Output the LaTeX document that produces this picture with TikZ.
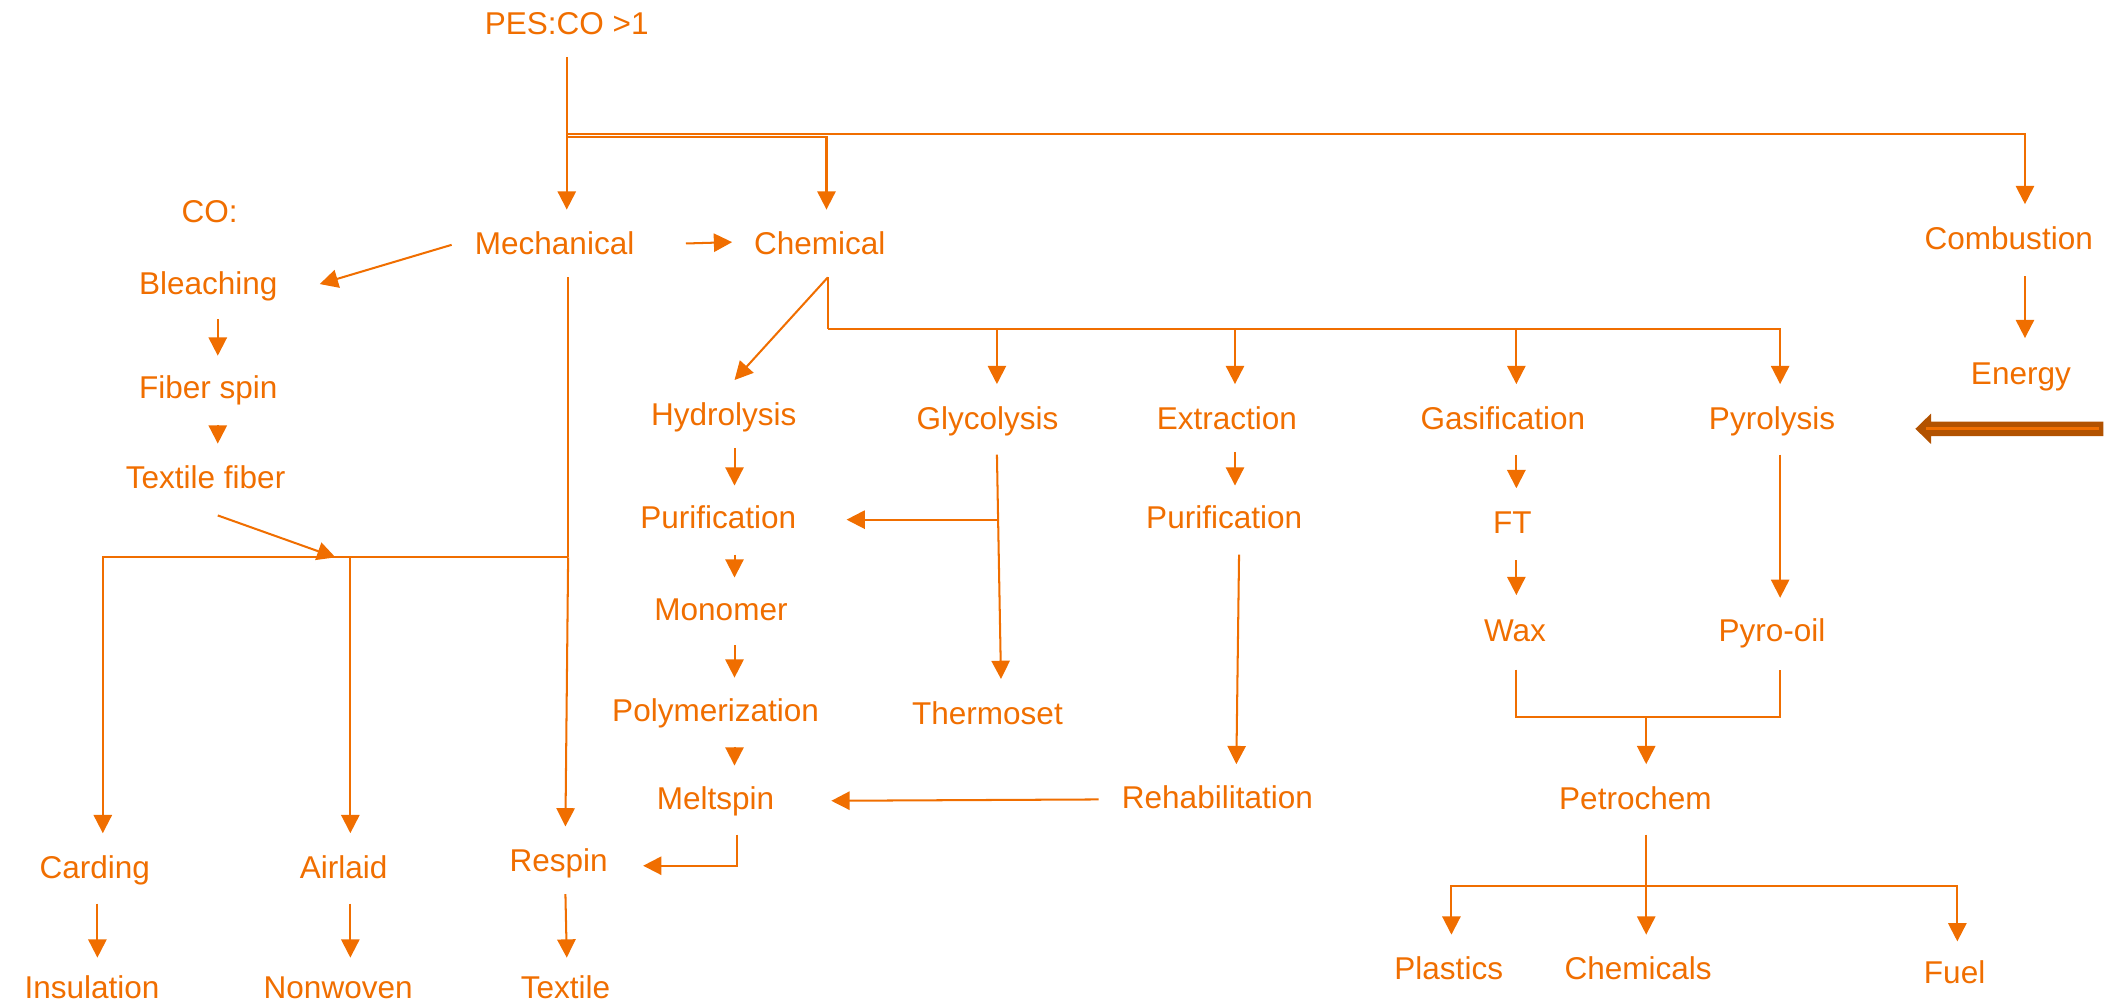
\documentclass[tikz,border=0pt]{standalone}
\usepackage{fontspec}
\setmainfont{Liberation Sans}
\usetikzlibrary{arrows.meta,calc}
\definecolor{flow}{RGB}{240,110,0}
\definecolor{heat}{RGB}{178,82,0}
\tikzset{
  lbl/.style={font=\fontsize{23.3}{28}\selectfont, text=flow, text height=16.7pt,
    text depth=0pt, inner xsep=6pt, inner ysep=16.5pt, anchor=center},
  ln/.style={draw=flow, line width=1.5pt},
  arr/.style={ln, -{Triangle[length=13.5pt,width=13.5pt]}}
}
\begin{document}
\begin{tikzpicture}[x=1pt,y=-1pt]
\useasboundingbox (0,0) rectangle (1568,744);

% process labels
\node[lbl] (pes) at (419,17) {PES:CO >1};
\node[lbl] (mech) at (410,180) {Mechanical};
\node[lbl] (chem) at (606,180) {Chemical};
\node[lbl] (comb) at (1485,176) {Combustion};
\node[lbl] (ener) at (1494,276) {Energy};
\node[lbl] (co) at (155,156) {CO:};
\node[lbl] (blea) at (154,209) {Bleaching};
\node[lbl] (fspin) at (154,286) {Fiber spin};
\node[lbl] (tfib) at (152,353) {Textile fiber};
\node[lbl] (hyd) at (535,306) {Hydrolysis};
\node[lbl] (gly) at (730,309) {Glycolysis};
\node[lbl] (ext) at (907,309) {Extraction};
\node[lbl] (gas) at (1111,309) {Gasification};
\node[lbl] (pyr) at (1310,309) {Pyrolysis};
\node[lbl] (pura) at (531,382) {Purification};
\node[lbl] (purb) at (905,382) {Purification};
\node[lbl] (ft) at (1118,386) {FT};
\node[lbl] (mono) at (533,450) {Monomer};
\node[lbl] (wax) at (1120,466) {Wax};
\node[lbl] (pyro) at (1310,466) {Pyro-oil};
\node[lbl] (poly) at (529,525) {Polymerization};
\node[lbl] (thermo) at (730,527) {Thermoset};
\node[lbl] (melt) at (529,590) {Meltspin};
\node[lbl] (rehab) at (900,589) {Rehabilitation};
\node[lbl] (petro) at (1209,590) {Petrochem};
\node[lbl] (card) at (70,641) {Carding};
\node[lbl] (air) at (254,641) {Airlaid};
\node[lbl] (respin) at (413,636) {Respin};
\node[lbl] (insul) at (68,730) {Insulation};
\node[lbl] (nonw) at (250,730) {Nonwoven};
\node[lbl] (textile) at (418,730) {Textile};
\node[lbl] (plast) at (1071,716) {Plastics};
\node[lbl] (chems) at (1211,716) {Chemicals};
\node[lbl] (fuel) at (1445,719) {Fuel};

% top split
\coordinate (top) at ($(pes.south)+(0,57)$);
\draw[ln] (pes.south) -- (top);
\draw[arr] (top) -- (top |- mech.north);
\draw[arr] (top) -| ([xshift=12pt]comb.north);
\draw[arr] ([yshift=-2pt]top) -| ([xshift=5pt]chem.north);
\draw[arr] ([xshift=32pt]mech.east) -- ([xshift=-10pt,yshift=1pt]chem.west);

% cotton branch
\draw[arr] ([xshift=-11pt,yshift=-1pt]mech.west) -- ([xshift=25pt,yshift=-1pt]blea.east);
\draw[arr] ([xshift=7pt,yshift=-2pt]blea.south) -- ([xshift=7pt,yshift=-2pt]fspin.north);
\draw[arr] ([xshift=7pt,yshift=-3pt]fspin.south) -- ([xshift=9pt]tfib.north);
\coordinate (bus) at ([xshift=10pt,yshift=-207pt]mech.south);
\draw[ln] ([xshift=10pt]mech.south) -- (bus);
\draw[arr] ([xshift=9pt,yshift=-3pt]tfib.south) -- ($(bus)+(-172,0)$);
\draw[arr] (bus) -| ([xshift=6pt]card.north);
\draw[arr] ($(bus)+(-161,0)$) -- ([xshift=5pt]air.north);
\draw[arr] (bus) -- ([xshift=5pt]respin.north);
\draw[arr] ([xshift=2pt,yshift=-2pt]card.south) -- ([xshift=4pt,yshift=-3pt]insul.north);
\draw[arr] ([xshift=5pt,yshift=-2pt]air.south) -- ([xshift=9pt,yshift=-3pt]nonw.north);
\draw[arr] ([xshift=5pt]respin.south) -- ([xshift=1pt,yshift=-3pt]textile.north);

% chemical routes
\coordinate (cbus) at ([xshift=6pt,yshift=-38pt]chem.south);
\draw[arr] ([xshift=6pt]chem.south) -- ([xshift=8pt]hyd.north);
\draw[ln] ([xshift=6pt]chem.south) -- (cbus);
\draw[arr] (cbus) -| ([xshift=7pt]gly.north);
\draw[arr] (cbus) -| ([xshift=6pt]ext.north);
\draw[arr] (cbus) -| ([xshift=10pt]gas.north);
\draw[arr] (cbus) -| ([xshift=6pt]pyr.north);

% hydrolysis chain
\draw[arr] ([xshift=8pt]hyd.south) -- ([xshift=12pt,yshift=-2pt]pura.north);
\draw[arr] ([xshift=12pt,yshift=-3pt]pura.south) -- ([xshift=10pt,yshift=-2pt]mono.north);
\draw[arr] ([xshift=10pt,yshift=-2pt]mono.south) -- ([xshift=14pt,yshift=-1pt]poly.north);
\draw[arr] ([xshift=14pt,yshift=-2pt]poly.south) -- ([xshift=14pt,yshift=-1pt]melt.north);
\draw[arr] ([xshift=16pt,yshift=-2pt]melt.south) |- ([xshift=20pt,yshift=-4pt]respin.east);

% glycolysis
\coordinate (gj) at ($([xshift=7pt,yshift=-2pt]gly.south)!0.29!([xshift=10pt]thermo.north)$);
\draw[arr] ([xshift=7pt,yshift=-2pt]gly.south) -- ([xshift=10pt]thermo.north);
\draw[arr] (gj) -- (gj -| {$(pura.east)+(31,0)$});

% extraction
\draw[arr] ([xshift=6pt]ext.south) -- ([xshift=8pt,yshift=-2pt]purb.north);
\draw[arr] ([xshift=11pt,yshift=-3pt]purb.south) -- ([xshift=14pt,yshift=-1pt]rehab.north);
\draw[arr] ([xshift=-11pt,yshift=-2pt]rehab.west) -- ([xshift=36pt,yshift=-2pt]melt.east);

% gasification and pyrolysis
\draw[arr] ([xshift=10pt,yshift=-2pt]gas.south) -- ([xshift=3pt]ft.north);
\draw[arr] ([xshift=3pt,yshift=-3pt]ft.south) -- ([xshift=1pt,yshift=1pt]wax.north);
\draw[arr] ([xshift=6pt,yshift=-2pt]pyr.south) -- ([xshift=6pt,yshift=-1pt]pyro.north);
\coordinate (mj) at ($([xshift=1pt,yshift=-4pt]wax.south)+(96,35)$);
\draw[ln] ([xshift=1pt,yshift=-4pt]wax.south) |- (mj) -| ([xshift=6pt,yshift=-4pt]pyro.south);
\draw[arr] (mj) -- ([xshift=8pt]petro.north);

% petrochemical products
\coordinate (pj) at ([xshift=8pt,yshift=-40pt]petro.south);
\draw[ln] ([xshift=8pt,yshift=-2pt]petro.south) -- (pj);
\draw[arr] (pj) -- ([xshift=6pt]chems.north);
\draw[arr] (pj) -| ([xshift=2pt]plast.north);
\draw[arr] (pj) -| ([xshift=2pt,yshift=-2pt]fuel.north);

% combustion
\draw[arr] ([xshift=12pt,yshift=-3pt]comb.south) -- ([xshift=3pt,yshift=1pt]ener.north);

% heat input arrow
\coordinate (hx) at (1555,317);
\fill[heat] (hx) ++(0,-5.4) -- ++(-127.4,0) -- ++(0,-5.9) -- (1416,317)
  -- ++(11.6,11.3) -- ++(0,-5.9) -- ++(127.4,0) -- cycle;
\draw[flow, line width=2pt] (1424,317) -- (1552,317);
\end{tikzpicture}
\end{document}
